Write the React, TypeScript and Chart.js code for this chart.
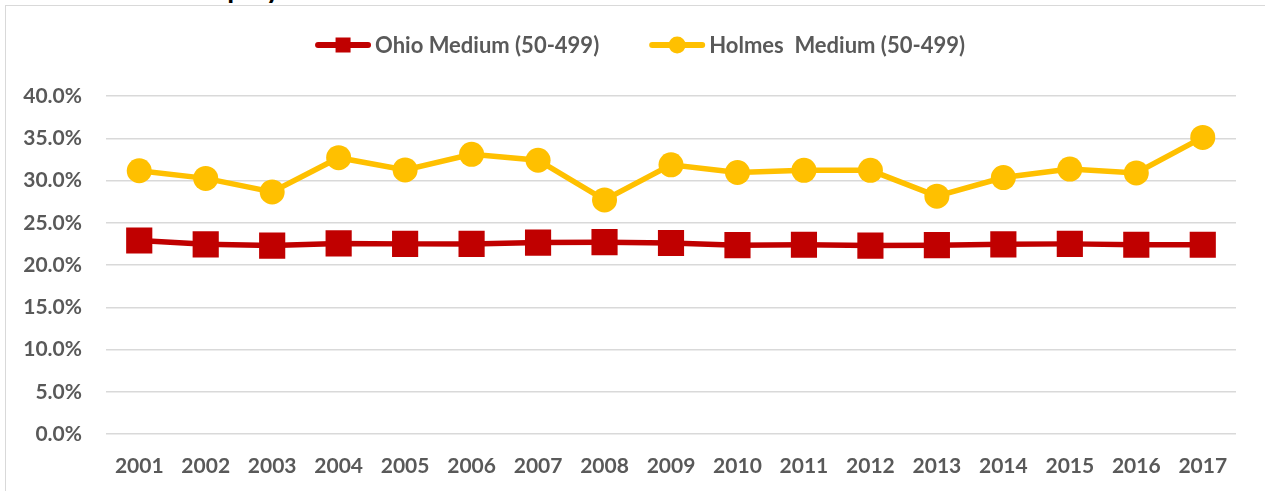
import React, { useEffect, useRef } from "react";
import { Chart, registerables } from "chart.js";

Chart.register(...registerables);

const years = ["2001","2002","2003","2004","2005","2006","2007","2008","2009","2010","2011","2012","2013","2014","2015","2016","2017"];
const ohioMedium = [22.9,22.45,22.3,22.55,22.5,22.5,22.65,22.7,22.6,22.35,22.4,22.3,22.35,22.45,22.5,22.4,22.4];
const holmesMedium = [31.15,30.25,28.65,32.7,31.25,33.1,32.4,27.7,31.85,30.95,31.2,31.2,28.15,30.35,31.35,30.9,35.1];
const seriesLabels = ["Ohio Medium (50-499)", "Holmes  Medium (50-499)"];
const yTicks = [0, 5, 10, 15, 20, 25, 30, 35, 40];

const RED = "#C00000";
const GOLD = "#FFC000";
const TEXT = "#595959";
const GRID = "#d9d9d9";
const FONT = "Lato, 'Open Sans', sans-serif";

const legendPlugin = {
  id: "lineLegend",
  afterDraw(chart: any) {
    const ctx = chart.ctx as CanvasRenderingContext2D;
    const items = chart.data.datasets.map((ds: any) => ({
      text: ds.label as string,
      color: ds.borderColor as string,
      shape: ds.pointStyle as string,
    }));
    ctx.save();
    ctx.font = `bold 22px ${FONT}`;
    const iconW = 56;
    const gapIcon = 4;
    const gapItem = 50;
    const widths = items.map((it: any) => iconW + gapIcon + ctx.measureText(it.text).width);
    const total = widths.reduce((a: number, b: number) => a + b, 0) + gapItem * (items.length - 1);
    let x = 640 - total / 2;
    const y = 45;
    items.forEach((it: any, i: number) => {
      ctx.strokeStyle = it.color;
      ctx.fillStyle = it.color;
      ctx.lineWidth = 6;
      ctx.lineCap = "round";
      ctx.beginPath();
      ctx.moveTo(x + 3, y);
      ctx.lineTo(x + iconW - 3, y);
      ctx.stroke();
      const cx = x + iconW / 2;
      if (it.shape === "rect") {
        ctx.fillRect(cx - 7.5, y - 7.5, 15, 15);
      } else {
        ctx.beginPath();
        ctx.arc(cx, y, 8.5, 0, Math.PI * 2);
        ctx.fill();
      }
      ctx.fillStyle = TEXT;
      ctx.textBaseline = "middle";
      ctx.textAlign = "left";
      ctx.fillText(it.text, x + iconW + gapIcon, y + 1);
      x += widths[i] + gapItem;
    });
    ctx.restore();
  },
};

export default function App() {
  const ref = useRef<HTMLCanvasElement>(null);
  useEffect(() => {
    document.body.style.margin = "0";
    const chart = new Chart(ref.current!, {
      type: "line",
      data: {
        labels: years,
        datasets: [
          {
            label: seriesLabels[0],
            data: ohioMedium,
            borderColor: RED,
            backgroundColor: RED,
            borderWidth: 5.5,
            pointStyle: "rect",
            pointRadius: 18.5,
            pointBorderWidth: 0,
            pointBackgroundColor: RED,
            tension: 0,
          },
          {
            label: seriesLabels[1],
            data: holmesMedium,
            borderColor: GOLD,
            backgroundColor: GOLD,
            borderWidth: 5.5,
            pointStyle: "circle",
            pointRadius: 12.5,
            pointBorderWidth: 0,
            pointBackgroundColor: GOLD,
            tension: 0,
          },
        ],
      },
      options: {
        animation: false,
        responsive: false,
        devicePixelRatio: 1,
        layout: { padding: { top: 96, right: 29, left: 0, bottom: 0 } },
        plugins: {
          tooltip: { enabled: false },
          legend: { display: false },
        },
        scales: {
          x: {
            offset: true,
            afterFit: (s: any) => {
              s.height = 57;
            },
            grid: { display: false, drawTicks: false },
            border: { display: false },
            ticks: {
              color: TEXT,
              padding: 20,
              maxRotation: 0,
              autoSkip: false,
              font: { family: FONT, size: 21, weight: "bold" },
            },
          },
          y: {
            min: 0,
            max: 40,
            afterFit: (s: any) => {
              s.width = 106;
            },
            afterBuildTicks: (s: any) => {
              s.ticks = yTicks.map((v) => ({ value: v }));
            },
            grid: { color: GRID, lineWidth: 1.5, drawTicks: false },
            border: { display: false },
            ticks: {
              color: TEXT,
              padding: 24,
              font: { family: FONT, size: 21, weight: "bold" },
              callback: (v: any) => Number(v).toFixed(1) + "%",
            },
          },
        },
      },
      plugins: [legendPlugin],
    });
    return () => chart.destroy();
  }, []);

  return (
    <div style={{ position: "fixed", left: 0, top: 0, width: 1265, height: 491, overflow: "hidden", background: "#fff" }}>
      <div
        style={{
          position: "absolute",
          left: 188,
          top: -30,
          fontFamily: FONT,
          fontWeight: "bold",
          fontSize: 28,
          lineHeight: "34px",
          color: "#000",
          whiteSpace: "nowrap",
        }}
      >
        Employment
      </div>
      <div
        style={{
          position: "absolute",
          left: 5,
          top: 5,
          width: 1400,
          height: 600,
          border: "1.5px solid #d9d9d9",
          background: "#fff",
        }}
      />
      <canvas ref={ref} width={1265} height={491} style={{ position: "absolute", left: 0, top: 0, display: "block" }} />
    </div>
  );
}
